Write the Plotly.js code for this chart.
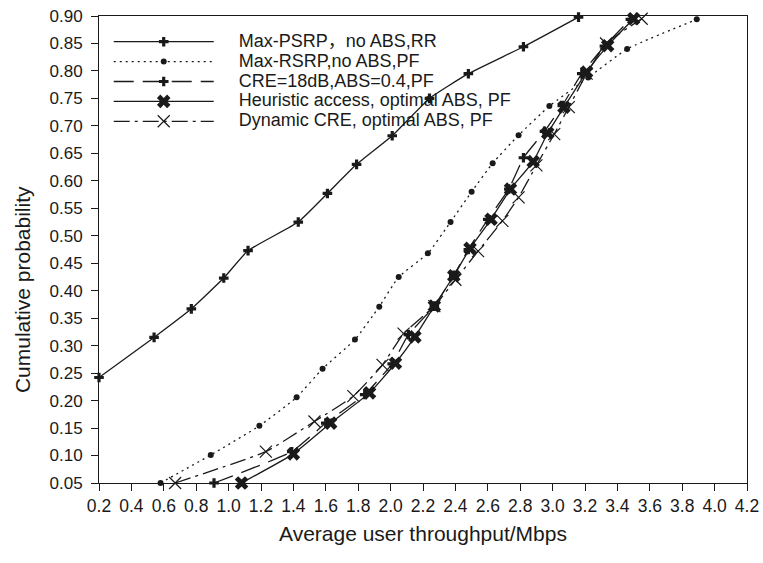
<!DOCTYPE html>
<html><head><meta charset="utf-8">
<script src="https://cdn.plot.ly/plotly-3.0.1.min.js"></script>
<style>body{margin:0;background:#fff}#chart{width:763px;height:563px}</style>
</head><body><div id="chart"></div>
<script>
// Series names (legend)
const seriesNames = [
  "Max-PSRP，no ABS,RR",
  "Max-RSRP,no ABS,PF",
  "CRE=18dB,ABS=0.4,PF",
  "Heuristic access, optimal ABS, PF",
  "Dynamic CRE, optimal ABS, PF"
];
// Max-PSRP, no ABS, RR
const maxPsrpX = [0.20, 0.54, 0.77, 0.97, 1.12, 1.43, 1.61, 1.79, 2.01, 2.24, 2.48, 2.82, 3.16];
const maxPsrpY = [0.242, 0.315, 0.367, 0.423, 0.473, 0.525, 0.577, 0.630, 0.682, 0.750, 0.795, 0.844, 0.898];
// Max-RSRP, no ABS, PF
const maxRsrpX = [0.58, 0.89, 1.19, 1.42, 1.58, 1.78, 1.93, 2.05, 2.23, 2.37, 2.50, 2.63, 2.79, 2.98, 3.22, 3.46, 3.89];
const maxRsrpY = [0.05, 0.101, 0.154, 0.206, 0.258, 0.311, 0.371, 0.425, 0.468, 0.525, 0.580, 0.632, 0.683, 0.736, 0.788, 0.840, 0.894];
// CRE=18dB, ABS=0.4, PF
const creX = [0.91, 1.39, 1.60, 1.84, 2.01, 2.11, 2.27, 2.39, 2.48, 2.60, 2.73, 2.82, 2.95, 3.06, 3.18, 3.32, 3.48];
const creY = [0.05, 0.107, 0.159, 0.211, 0.267, 0.320, 0.372, 0.428, 0.475, 0.530, 0.585, 0.642, 0.690, 0.737, 0.795, 0.845, 0.894];
// Heuristic access, optimal ABS, PF
const heurX = [1.08, 1.40, 1.63, 1.87, 2.03, 2.15, 2.27, 2.39, 2.49, 2.62, 2.74, 2.88, 2.97, 3.07, 3.21, 3.34, 3.50];
const heurY = [0.05, 0.103, 0.159, 0.214, 0.268, 0.316, 0.372, 0.427, 0.477, 0.530, 0.585, 0.635, 0.687, 0.734, 0.798, 0.846, 0.895];
// Dynamic CRE, optimal ABS, PF
const dynX = [0.67, 1.23, 1.53, 1.77, 1.95, 2.08, 2.27, 2.40, 2.54, 2.69, 2.79, 2.90, 3.01, 3.10, 3.21, 3.33, 3.55];
const dynY = [0.05, 0.107, 0.162, 0.208, 0.265, 0.322, 0.372, 0.420, 0.472, 0.527, 0.570, 0.628, 0.685, 0.734, 0.795, 0.850, 0.895];

const xTickVals = [0.2,0.4,0.6,0.8,1.0,1.2,1.4,1.6,1.8,2.0,2.2,2.4,2.6,2.8,3.0,3.2,3.4,3.6,3.8,4.0,4.2];
const yTickVals = [0.05,0.10,0.15,0.20,0.25,0.30,0.35,0.40,0.45,0.50,0.55,0.60,0.65,0.70,0.75,0.80,0.85,0.90];

const FONT = "Liberation Sans, Arial, Noto Sans CJK SC, sans-serif";
const INK = "#1a1a1a";
const nm = s => '<span style="font-size:18px">' + s + '</span>';

const traces = [
  {x: maxPsrpX, y: maxPsrpY, name: nm(seriesNames[0]), mode: "lines+markers",
   line: {color: INK, width: 1.3, shape: "spline", smoothing: 0.4},
   marker: {symbol: "cross", size: 8, color: INK}},
  {x: maxRsrpX, y: maxRsrpY, name: nm(seriesNames[1]), mode: "lines+markers",
   line: {color: INK, width: 1.3, dash: "2px,4px", shape: "spline", smoothing: 0.4},
   marker: {symbol: "circle", size: 6, color: INK}},
  {x: creX, y: creY, name: nm(seriesNames[2]), mode: "lines+markers",
   line: {color: INK, width: 1.3, dash: "20px,9px", shape: "spline", smoothing: 0.4},
   marker: {symbol: "cross", size: 8, color: INK}},
  {x: heurX, y: heurY, name: nm(seriesNames[3]), mode: "lines+markers",
   line: {color: INK, width: 1.3, shape: "spline", smoothing: 0.4},
   marker: {symbol: "x", size: 12, color: INK}},
  {x: dynX, y: dynY, name: nm(seriesNames[4]), mode: "lines+markers",
   line: {color: INK, width: 1.3, dash: "16px,5px,3px,5px", shape: "spline", smoothing: 0.4},
   marker: {symbol: "x-thin-open", size: 12, color: INK, line: {width: 1.2, color: INK}}}
];
traces.forEach(t => t.cliponaxis = false);

const layout = {
  width: 763, height: 563,
  margin: {l: 99, r: 16, t: 16, b: 80},
  paper_bgcolor: "#fff", plot_bgcolor: "#fff",
  font: {family: FONT, color: INK},
  showlegend: true,
  legend: {x: 0.015, y: 0.977, xanchor: "left", yanchor: "top",
           bgcolor: "rgba(0,0,0,0)", borderwidth: 0, itemwidth: 120,
           font: {size: 13, family: FONT, color: INK}, tracegroupgap: 0},
  xaxis: {range: [0.2, 4.2], tickvals: xTickVals, tickformat: ".1f",
          ticks: "outside", ticklen: 7, tickwidth: 1, tickcolor: INK,
          showline: true, mirror: true, linecolor: INK, linewidth: 1,
          showgrid: false, zeroline: false, ticklabelstandoff: 0,
          tickfont: {size: 17.5, family: FONT, color: INK},
          title: {text: "Average user throughput/Mbps", standoff: 11,
                  font: {size: 21, family: FONT, color: INK}}},
  yaxis: {range: [0.05, 0.90], tickvals: yTickVals, tickformat: ".2f",
          ticks: "outside", ticklen: 7, tickwidth: 1, tickcolor: INK,
          showline: true, mirror: true, linecolor: INK, linewidth: 1,
          showgrid: false, zeroline: false, ticklabelstandoff: 5,
          tickfont: {size: 17, family: FONT, color: INK}},
  annotations: [{text: "Cumulative probability", xref: "paper", yref: "paper",
                 x: -0.119, y: 0.415, xanchor: "center", yanchor: "middle",
                 textangle: -90, showarrow: false,
                 font: {size: 21, family: FONT, color: INK}}]
};

Plotly.newPlot("chart", traces, layout, {displayModeBar: false, staticPlot: true}).then(gd => {
  // lengthen legend line samples to match the reference style
  gd.querySelectorAll(".legend .traces").forEach(tr => {
    tr.querySelectorAll(".legendlines path").forEach(p => p.setAttribute("d", "M5,0h100"));
    tr.querySelectorAll(".legendpoints path").forEach(p => p.setAttribute("transform", "translate(55,0)"));
  });
});
</script>
</body></html>
